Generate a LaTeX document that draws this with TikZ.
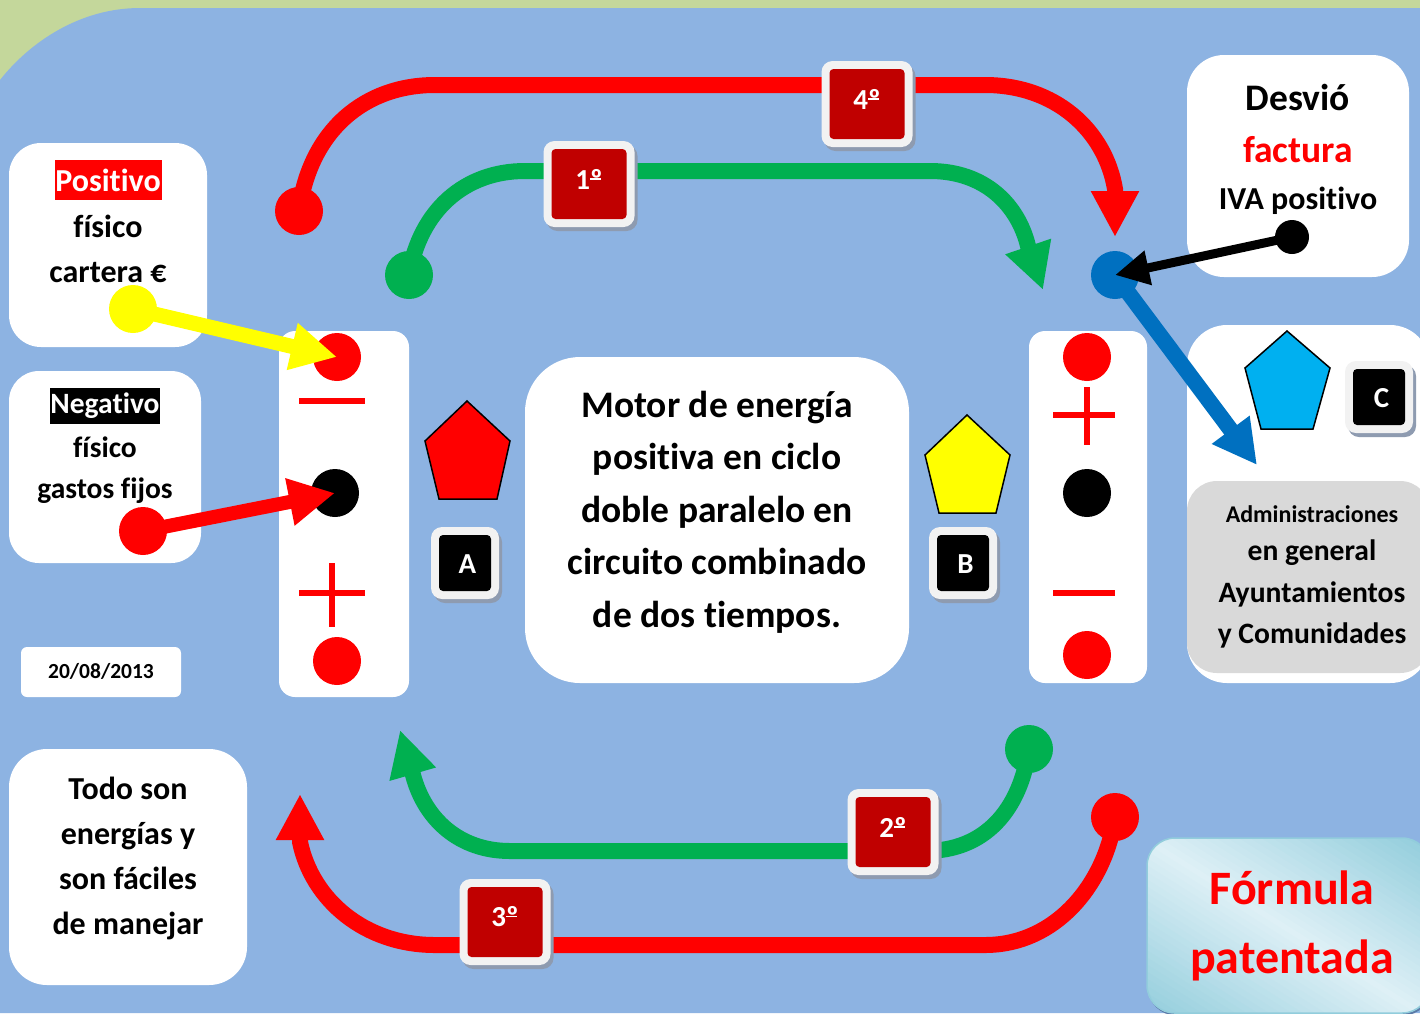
\documentclass[tikz,border=0pt]{standalone}
\usepackage{fontspec}
\setmainfont{Carlito}[Ligatures=NoCommon]
\usetikzlibrary{arrows.meta}
\definecolor{bggreen}{HTML}{C4D79B}
\definecolor{bgblue}{HTML}{8DB3E2}
\definecolor{cgreen}{HTML}{00B050}
\definecolor{cblue}{HTML}{0070C0}
\definecolor{ccyan}{HTML}{00B0F0}
\definecolor{cyellow}{RGB}{255,255,0}
\definecolor{darkred}{HTML}{C00000}
\definecolor{badgeedge}{HTML}{F2F2F2}
\definecolor{badgeshadow}{HTML}{8E9BB0}
\definecolor{grayfill}{HTML}{D9D9D9}
\definecolor{formdark}{HTML}{92CDDC}
\definecolor{formlight}{HTML}{DEF0F6}
\definecolor{formshadow}{HTML}{5B7BA8}
\newcommand{\fs}[2]{\fontsize{#1}{#2}\selectfont\bfseries}
\newcommand{\ordinal}{\makebox[0pt][l]{\rule[9.5pt]{11pt}{1.6pt}}º}
\newcommand{\numbadge}[5]{%
  \node[bshadow,minimum width=91pt,minimum height=86pt] (#1s) at (#2+3,#3+4) {};
  \node[bedge,minimum width=91pt,minimum height=86pt] (#1o) at (#2,#3) {};
  \node[binner,fill=#4,minimum width=75pt,minimum height=70pt] (#1i) at (#2,#3) {};
  \node[btext] (#1t) at (#2,#3-5) {#5};}
\newcommand{\letbadge}[5]{%
  \node[bshadow,minimum width=68pt,minimum height=72pt] (#1s) at (#2+3,#3+4) {};
  \node[bedge,minimum width=68pt,minimum height=72pt] (#1o) at (#2,#3) {};
  \node[binner,fill=#4,minimum width=52pt,minimum height=56pt] (#1i) at (#2,#3) {};
  \node[btext] (#1t) at (#2+2.5,#3+1) {#5};}
\tikzset{
  panel/.style={rectangle,fill=white,inner sep=0pt},
  dot/.style={circle,inner sep=0pt,minimum size=48pt},
  txt/.style={inner sep=0pt,align=center},
  bshadow/.style={rectangle,inner sep=0pt,rounded corners=11pt,fill=badgeshadow},
  bedge/.style={rectangle,inner sep=0pt,rounded corners=11pt,fill=badgeedge},
  binner/.style={rectangle,inner sep=0pt,rounded corners=4pt},
  btext/.style={inner sep=0pt,text=white,font=\fs{29}{32}},
  conn/.style={line width=16pt},
  bigtip/.style={-{Triangle[length=46pt,width=45pt]}},
  penta/.style={draw=black,line width=1.5pt,line join=miter},
  bar/.style={draw=red,line width=6pt}
}
\begin{document}
\begin{tikzpicture}[x=1pt,y=-1pt]
\useasboundingbox (0,0) rectangle (1420,1013);
\fill[bggreen] (0,0) rectangle (1420,1013);
\fill[bgblue] (0,80) .. controls (30,42) and (80,8) .. (140,8) -- (1420,8) -- (1420,1013) -- (0,1013) -- cycle;

% panels
\node[panel,rounded corners=32pt,minimum width=198pt,minimum height=204pt] (ppos) at (108,245) {};
\node[panel,rounded corners=30pt,minimum width=192pt,minimum height=192pt] (pneg) at (105,467) {};
\node[panel,rounded corners=6pt,minimum width=160pt,minimum height=50pt] (pdate) at (101,672) {};
\node[panel,rounded corners=38pt,minimum width=238pt,minimum height=236pt] (ptodo) at (128,867) {};
\node[panel,rounded corners=16pt,minimum width=130pt,minimum height=366pt] (pleft) at (344,514) {};
\node[panel,rounded corners=55pt,minimum width=384pt,minimum height=326pt] (pcenter) at (717,520) {};
\node[panel,rounded corners=16pt,minimum width=118pt,minimum height=352pt] (pright) at (1088,507) {};
\node[panel,rounded corners=37pt,minimum width=222pt,minimum height=222pt] (pdes) at (1298,166) {};
\node[panel,rounded corners=40pt,minimum width=243pt,minimum height=358pt] (padm) at (1308.5,504) {};
\node[panel,fill=grayfill,rounded corners=30pt,minimum width=243pt,minimum height=192pt] (pgray) at (1308.5,577) {};
\node[panel,fill=formshadow,rounded corners=28pt,minimum width=283pt,minimum height=175pt] (pforms) at (1289.5,928) {};
% gradient of the formula panel, painted as diagonal bands
\begin{scope}
\clip[rounded corners=28pt] (1147,838) rectangle (1430,1013);
\foreach \i in {0,...,50}{
  \pgfmathsetmacro{\sv}{\i*6}
  \pgfmathsetmacro{\mv}{100*(1-abs(2*\i/50-1))}
  \fill[formlight!\mv!formdark]
    (1430-0.533*\sv+0.846*600,838+0.846*\sv+0.533*600) --
    (1430-0.533*\sv-0.846*600,838+0.846*\sv-0.533*600) --
    (1430-0.533*400-0.846*600,838+0.846*400-0.533*600) --
    (1430-0.533*400+0.846*600,838+0.846*400+0.533*600) -- cycle;
}
\end{scope}
\node[rectangle,inner sep=0pt,rounded corners=28pt,minimum width=283pt,minimum height=175pt,
  draw=formdark,line width=1.5pt] (pform) at (1288.5,925.5) {};

% texts
\node[txt,fill=red,text=white,font=\fs{32}{36},minimum width=107pt,minimum height=40pt] (tpos) at (108,180) {Positivo};
\node[txt,font=\fs{32}{45}] (tpos2) at (108,249) {físico\\cartera €};
\node[txt,fill=black,text=white,font=\fs{29.5}{34},minimum width=110pt,minimum height=36pt] (tneg) at (105,406) {Negativo};
\node[txt,font=\fs{29.5}{41}] (tneg2) at (105,470.5) {físico\\gastos fijos};
\node[txt,font=\fs{21.5}{26}] (tdate) at (101,671) {20/08/2013};
\node[txt,font=\fs{32}{45}] (ttodo) at (128,858.5) {Todo son\\energías y\\son fáciles\\de manejar};
\node[txt,font=\fs{37.5}{52.5}] (tcenter) at (717,512) {Motor de energía\\positiva en ciclo\\doble paralelo en\\circuito combinado\\de dos tiempos.};
\node[txt,font=\fs{37.5}{44}] (tdes1) at (1298,97) {Desvió};
\node[txt,text=red,font=\fs{37.5}{44}] (tdes2) at (1298,150) {factura};
\node[txt,font=\fs{32}{36}] (tdes3) at (1298,200.5) {IVA positivo};
\node[txt,font=\fs{24}{28}] (tadm1) at (1312,514) {Administraciones};
\node[txt,font=\fs{29.6}{41.5}] (tadm2) at (1312,594) {en general\\Ayuntamientos\\y Comunidades};
\node[txt,text=red,font=\fs{48}{69}] (tform) at (1292,925.5) {Fórmula\\patentada};

% strip symbols
\node[dot,fill=red] (lr1) at (337,357) {};
\node[dot,fill=black] (lk) at (335,493) {};
\node[dot,fill=red] (lr2) at (337,661) {};
\node[dot,fill=red] (rr1) at (1087,357) {};
\node[dot,fill=black] (rk) at (1087,493) {};
\node[dot,fill=red] (rr2) at (1087,655) {};
\draw[bar] (299,400.5) -- (365,400.5);
\draw[bar] (299,593) -- (365,593);
\draw[bar] (332,563) -- (332,627);
\draw[bar] (1053,415) -- (1115,415);
\draw[bar] (1087,387) -- (1087,445);
\draw[bar] (1053,593) -- (1115,593);

% pentagons
\draw[penta,fill=red] (467,401) -- (510,441) -- (497,499) -- (439,499) -- (425,441) -- cycle;
\draw[penta,fill=cyellow] (967,415) -- (1010,455) -- (996,513) -- (939,513) -- (925,455) -- cycle;
\draw[penta,fill=ccyan] (1287,331) -- (1330,368) -- (1313,429) -- (1261,429) -- (1245,368) -- cycle;

% end points and start dots
\node[dot,fill=red] (s4) at (299,211) {};
\node[dot,fill=cgreen] (s1) at (409,275) {};
\node[dot,fill=cgreen] (s2) at (1029,749) {};
\node[dot,fill=red] (s3) at (1115,817) {};
\node[dot,fill=cblue] (hub) at (1115,275) {};
\node[dot,fill=cyellow] (sy) at (133,309) {};
\node[dot,fill=red] (sr) at (143,531) {};
\node[dot,fill=black,minimum size=34pt] (sk) at (1292,237) {};
\coordinate (e4) at (1115,237);
\coordinate (e1) at (1043,290);
\coordinate (e2) at (400,730);
\coordinate (e3) at (300,794);
\coordinate (eb) at (1257,465);

% connectors
\draw[conn,red,bigtip] (s4.center) .. controls (310,130) and (365,85) .. (435,85) -- (985,85)
   .. controls (1055,85) and (1105,130) .. (1115,189) -- (e4);
\draw[conn,cgreen,bigtip] (s1.center) .. controls (420,210) and (465,171) .. (525,171) -- (930,171)
   .. controls (985,171) and (1018,205) .. (1028,246) -- (e1);
\draw[conn,cgreen,bigtip] (s2.center) .. controls (1020,810) and (985,851) .. (925,851) -- (510,851)
   .. controls (460,851) and (425,820) .. (413,775) -- (e2);
\draw[conn,red,bigtip] (s3.center) .. controls (1105,885) and (1055,945) .. (985,945) -- (435,945)
   .. controls (365,945) and (312,900) .. (300,842) -- (e3);
\draw[conn,cblue,-{Triangle[length=44pt,width=44pt]}] (hub.center) -- (eb);
\draw[line width=9pt,black,-{Triangle[length=34pt,width=33pt]}] (sk.center) -- (hub.center);
\draw[line width=15pt,cyellow,-{Triangle[length=46pt,width=45pt]}] (sy.center) -- (lr1.center);
\draw[line width=14pt,red,-{Triangle[length=46pt,width=45pt]}] (sr.center) -- (lk.center);

% badges
\numbadge{b4}{867}{104}{darkred}{4\ordinal}
\numbadge{b1}{589}{184}{darkred}{1\ordinal}
\numbadge{b2}{893}{832}{darkred}{2\ordinal}
\numbadge{b3}{505}{922}{darkred}{3\ordinal}
\letbadge{ba}{465}{563}{black}{A}
\letbadge{bb}{963}{563}{black}{B}
\letbadge{bc}{1379}{397}{black}{C}
\end{tikzpicture}
\end{document}
